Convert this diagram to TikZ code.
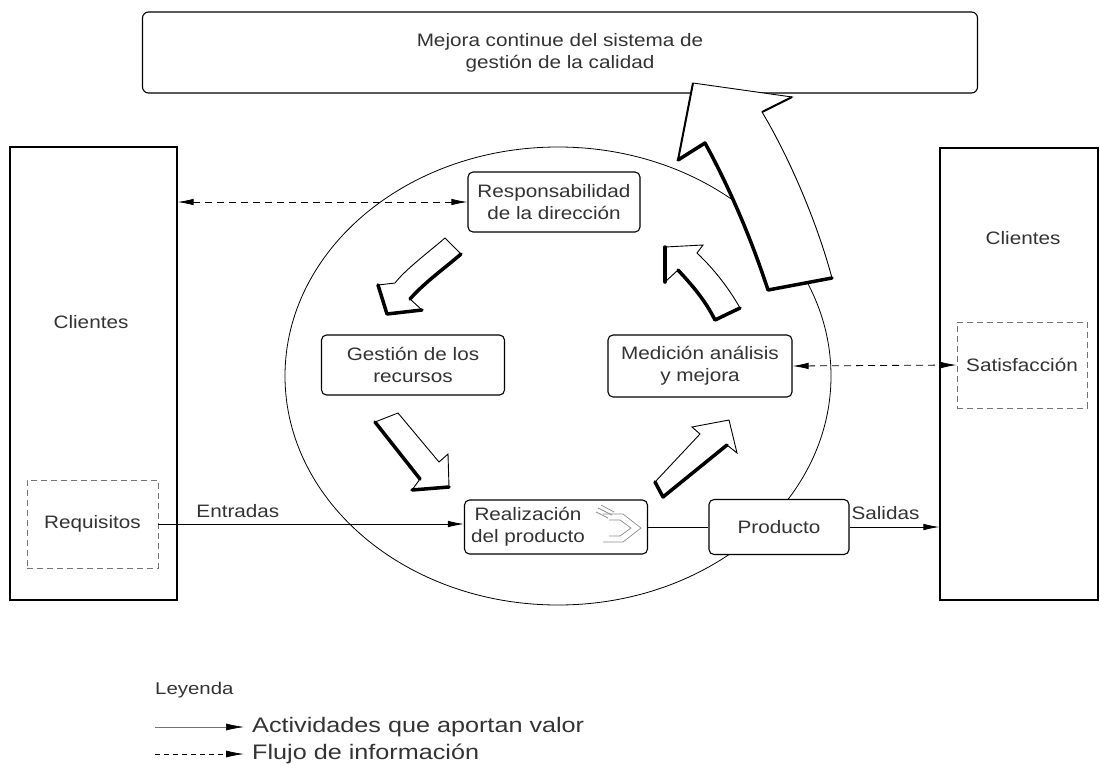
\documentclass[tikz,border=0pt]{standalone}
\usepackage{fontspec}
\setmainfont{Liberation Sans}[FakeStretch=1.15]
\newfontfamily\legfont{Liberation Sans}[FakeStretch=1.2]
\usetikzlibrary{arrows.meta}

\begin{document}
\begin{tikzpicture}[x=1pt,y=-1pt,
  txt/.style={text=black!80, font=\fontsize{18}{22}\selectfont, align=center, inner sep=0pt},
  box/.style={draw, line width=1.1pt, rounded corners=5pt, fill=white, txt},
  panel/.style={draw, line width=1.1pt, fill=white, inner sep=0pt},
  dbox/.style={draw=black!55, dash pattern=on 6pt off 4pt, line width=0.9pt, inner sep=0pt},
  flow/.style={line width=0.8pt, -{Latex[length=16pt,width=6.5pt]}},
  info/.style={line width=0.8pt, dash pattern=on 7pt off 5pt,
               {Latex[length=16pt,width=6.5pt]}-{Latex[length=16pt,width=6.5pt]}},
  fat/.style={fill=white, draw, line width=0.9pt, line join=miter},
  shade/.style={line width=3.5pt, line cap=round, line join=round},
  legtxt/.style={text=black!80, font=\legfont\fontsize{21}{25}\selectfont, inner sep=0pt, anchor=west}
]
\useasboundingbox (0,0) rectangle (1100,769);

% process cycle
\draw[line width=0.8pt] (558,376) ellipse [x radius=273, y radius=229];

% continual improvement banner
\node[box, rounded corners=6pt, minimum width=835pt, minimum height=81pt] (mejora) at (560,52.5)
  {Mejora continue del sistema de\\gesti\'on de la calidad};

% customers on both sides
\node[panel, minimum width=167pt, minimum height=453pt] (cliL) at (93.5,373.5) {};
\node[txt] (cliLt) at (91,322) {Clientes};
\node[dbox, minimum width=131pt, minimum height=88pt, txt] (req) at (92.5,524) {Requisitos};

\node[panel, minimum width=158pt, minimum height=452pt] (cliR) at (1019,374) {};
\node[txt] (cliRt) at (1023,238) {Clientes};
\node[dbox, minimum width=130pt, minimum height=86pt, txt] (sat) at (1022,365) {Satisfacci\'on};

% process boxes
\node[box, minimum width=172pt, minimum height=60pt] (resp) at (554,202)
  {Responsabilidad\\de la direcci\'on};
\node[box, minimum width=183pt, minimum height=60pt] (gest) at (413,365)
  {Gesti\'on de los\\recursos};
\node[box, minimum width=184pt, minimum height=62pt] (med) at (700,366)
  {Medici\'on an\'alisis\\y mejora};
\node[box, minimum width=183pt, minimum height=54pt] (real) at (556,527) {};
\node[txt] (realt) at (528,527) {Realizaci\'on\\del producto};
\node[box, minimum width=140pt, minimum height=55pt] (prod) at (779,527) {Producto};

% small chevron mark inside the realization box
\begin{scope}[draw=black!45, line width=0.7pt]
  \draw (603,514) -- (623,514) -- (641,528) -- (623,542) -- (603,542);
  \draw (609,520) -- (620,520) -- (631,528) -- (620,536) -- (609,536);
  \draw (596,512) -- (608,518) (598,508) -- (612,515) (601,505) -- (614,512);
\end{scope}

% connectors
\draw[flow] (req.east) -- (req.east -| real.west)
  node[pos=0.26, above=6pt, txt] (entr) {Entradas};
\draw[line width=0.8pt] (real.east |- prod.west) -- (prod.west);
\draw[flow] (prod.east) -- (prod.east -| cliR.west)
  node[pos=0.4, above=7pt, txt] (sal) {Salidas};
\draw[info] (resp.west -| cliL.east) -- (resp.west);
\draw[info] (med.east) -- (sat.west);

% cycle arrows
% responsibility -> resources
\draw[fat] (445,238) .. controls (425,255) and (405,270) .. (395,283) -- (378,285) -- (387,314)
  -- (422,310) -- (410,299) .. controls (425,282) and (445,268) .. (461,254) -- cycle;
\draw[shade] (378,285) -- (387,314) -- (422,310);
\draw[shade] (410,299) .. controls (425,282) and (445,268) .. (461,254);
% resources -> realization
\draw[fat] (375,422) -- (420,479) -- (412,490) -- (449,487) -- (448,454) -- (439,462) -- (398,413) -- cycle;
\draw[shade] (375,422) -- (420,479);
\draw[shade] (412,490) -- (449,487);
% realization -> measurement
\draw[fat] (655,482) -- (700,434) -- (692,427) -- (729,420) -- (737,453) -- (727,445) -- (663,497) -- cycle;
\draw[shade] (655,482) -- (663,497) -- (727,445);
% measurement -> responsibility
\draw[fat] (665,247) -- (703,245) -- (697,253) .. controls (715,270) and (730,290) .. (740,308)
  -- (715,320) .. controls (705,300) and (692,285) .. (678,270) -- (665,282) -- cycle;
\draw[shade] (665,247) -- (665,282);
\draw[shade] (678,270) .. controls (692,285) and (705,300) .. (715,320) -- (740,308);

% large arrow towards continual improvement
\draw[fat] (705,143) -- (678,160) -- (693,83) -- (792,97) -- (762,112)
  .. controls (785,150) and (815,215) .. (832,278) -- (768,290)
  .. controls (750,235) and (728,185) .. cycle;
\draw[shade] (678,160) -- (705,143) .. controls (728,185) and (750,235) .. (768,290) -- (832,278);
\draw[line width=2pt] (678,160) -- (693,83);
\draw[line width=2pt] (762,112) -- (792,97);

% legend
\node[legtxt, font=\legfont\fontsize{17}{20}\selectfont] (ley) at (155,690) {Leyenda};
\node[legtxt] (leg1) at (252,727) {Actividades que aportan valor};
\node[legtxt] (leg2) at (252,754) {Flujo de informaci\'on};
\coordinate (leg1s) at (155,727);
\coordinate (leg2s) at (155,754);
\draw[line width=0.6pt, draw=black!55, -{Latex[length=18pt,width=7pt,color=black]}] (leg1s) -- ([xshift=-8pt]leg1.west);
\draw[line width=0.8pt, dash pattern=on 5pt off 4pt, -{Latex[length=18pt,width=7pt]}] (leg2s) -- ([xshift=-8pt]leg2.west);
\end{tikzpicture}
\end{document}
